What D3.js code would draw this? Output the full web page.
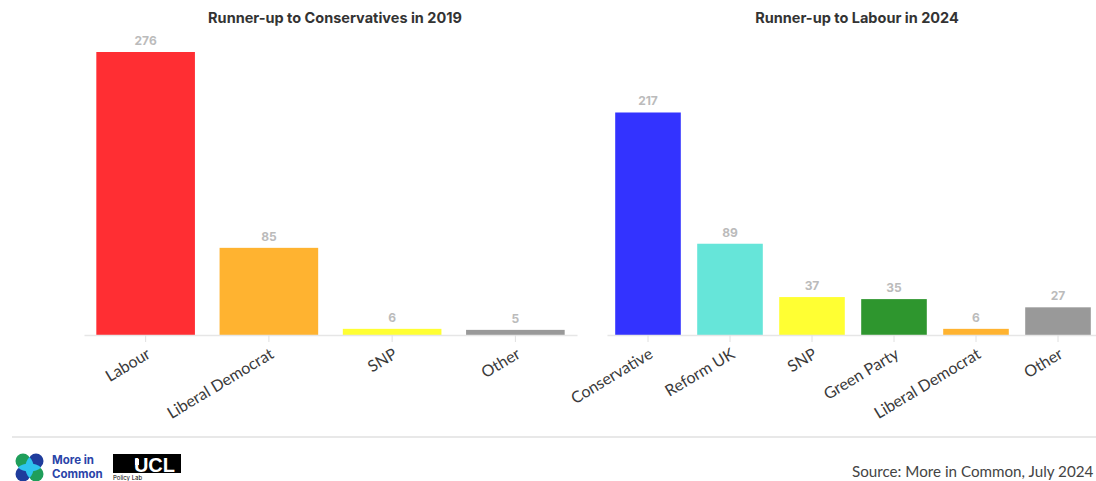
<!DOCTYPE html>
<html><head><meta charset="utf-8">
<script src="https://cdn.jsdelivr.net/npm/d3@7"></script>
<style>
body{margin:0;background:#fff;}
svg{display:block;font-family:"Inter","Lato",sans-serif;}
</style></head><body>
<svg id="c" width="1096" height="481"></svg>
<script>
const titles = ["Runner-up to Conservatives in 2019", "Runner-up to Labour in 2024"];
const categories2019 = ["Labour", "Liberal Democrat", "SNP", "Other"];
const values2019 = [276, 85, 6, 5];
const colors2019 = ["#ff2e33", "#ffb330", "#ffff33", "#999999"];
const categories2024 = ["Conservative", "Reform UK", "SNP", "Green Party", "Liberal Democrat", "Other"];
const values2024 = [217, 89, 37, 35, 6, 27];
const colors2024 = ["#3333ff", "#66e5d9", "#ffff33", "#2e962e", "#ffb330", "#999999"];
const sourceText = "Source: More in Common, July 2024";

const svg = d3.select("#c");
const y = d3.scaleLinear().domain([0, 276]).range([335, 52]);

function panel(cats, vals, cols, title, x0, x1, titleX) {
  const x = d3.scaleBand().domain(cats).range([x0, x1]).paddingInner(0.2).paddingOuter(0.1);
  const g = svg.append("g");
  g.append("text").attr("x", titleX).attr("y", 23).attr("text-anchor", "middle")
    .attr("font-size", 14.5).attr("font-weight", 700).attr("fill", "#333").text(title);
  const data = cats.map((c, i) => ({c, v: vals[i], col: cols[i]}));
  g.selectAll("rect").data(data).join("rect")
    .attr("x", d => x(d.c)).attr("width", x.bandwidth())
    .attr("y", d => y(d.v)).attr("height", d => y(0) - y(d.v))
    .attr("fill", d => d.col);
  g.selectAll("text.val").data(data).join("text").attr("class", "val")
    .attr("x", d => x(d.c) + x.bandwidth() / 2).attr("y", d => y(d.v) - 7)
    .attr("text-anchor", "middle").attr("font-size", 12).attr("font-weight", 700)
    .attr("fill", "#bbbbbb").text(d => d.v);
  const ax = g.append("g").attr("transform", "translate(0,335)")
    .call(d3.axisBottom(x).tickSize(7).tickSizeOuter(0));
  ax.select(".domain").attr("stroke", "#e6e6e6").attr("stroke-width", 1.5);
  ax.selectAll(".tick line").attr("stroke", "#e0e0e0");
  ax.selectAll(".tick text").attr("font-size", 16).attr("fill", "#3a3a3a")
    .attr("font-family", "Lato, sans-serif")
    .attr("text-anchor", "end").attr("dy", 0).attr("y", 0)
    .attr("transform", "translate(6,22) rotate(-31)");
}
panel(categories2019, values2019, colors2019, titles[0], 84, 577, 335);
panel(categories2024, values2024, colors2024, titles[1], 607, 1099, 857);

// separator
svg.append("line").attr("x1", 12).attr("x2", 1096).attr("y1", 437).attr("y2", 437)
  .attr("stroke", "#e8e8e8").attr("stroke-width", 2);

// source
svg.append("text").attr("x", 852).attr("y", 477).attr("font-size", 15.2)
  .attr("font-family", "Lato, sans-serif").attr("fill", "#444").text(sourceText);

// More in Common logo
const lg = svg.append("g").attr("transform", "translate(16,454)");
[[7,7,"#1f9e5a"],[20,7,"#1f3c9c"],[7,20,"#1f3c9c"],[20,20,"#1f9e5a"]].forEach(p=>{
  lg.append("circle").attr("cx",p[0]).attr("cy",p[1]).attr("r",7.5).attr("fill",p[2]);
});
lg.append("path").attr("d","M13.5,3 C19,8 19,19 13.5,24 C8,19 8,8 13.5,3Z").attr("fill","#2ec4ee");
lg.append("path").attr("d","M2,13.5 C7,8 20,8 25,13.5 C20,19 7,19 2,13.5Z").attr("fill","#2ec4ee");
lg.append("text").attr("x", 36).attr("y", 10).attr("font-size", 11.5).attr("font-weight", 700)
  .attr("fill", "#2a44a8").text("More in");
lg.append("text").attr("x", 36).attr("y", 23.5).attr("font-size", 11.5).attr("font-weight", 700)
  .attr("fill", "#2a44a8").text("Common");
// UCL logo
const ug = svg.append("g").attr("transform", "translate(113,454)");
ug.append("rect").attr("width", 68).attr("height", 19).attr("fill", "#000");
ug.append("text").attr("x", 62).attr("y", 18).attr("text-anchor", "end").attr("font-size", 20)
  .attr("font-weight", 900).attr("fill", "#fff").attr("font-family","Liberation Sans, sans-serif").text("UCL");
ug.append("rect").attr("x", 22).attr("y", 5).attr("width", 4).attr("height", 6).attr("fill", "#fff");
ug.append("text").attr("x", 0).attr("y", 26).attr("font-size", 6).attr("fill", "#000").text("Policy Lab");
</script></body></html>
